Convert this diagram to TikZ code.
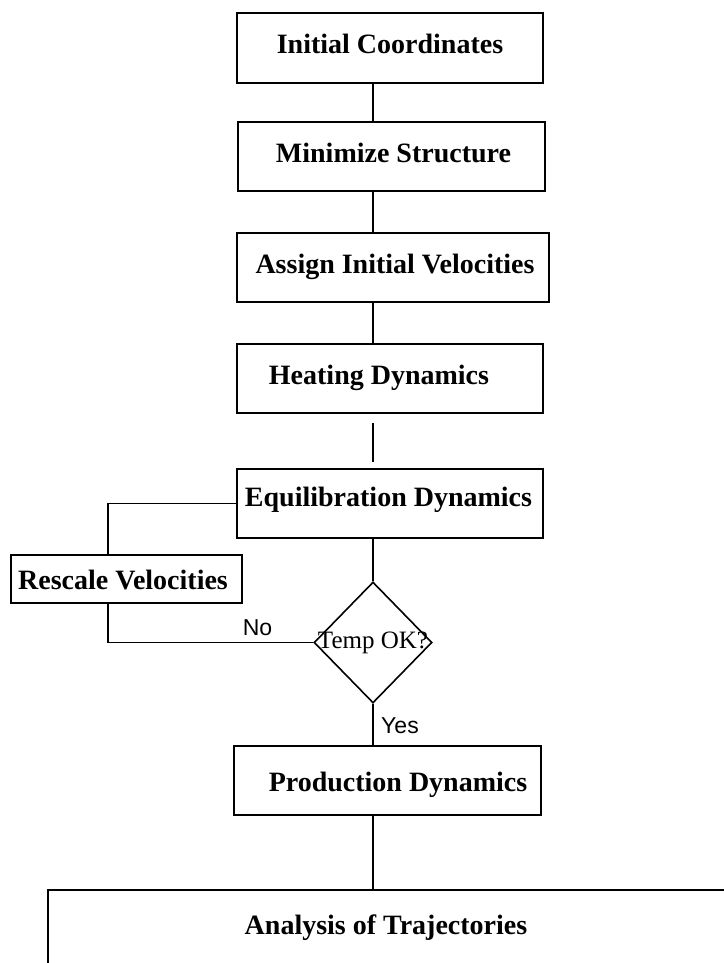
\documentclass[tikz,border=0pt]{standalone}
\usepackage{fontspec}
\setmainfont{Liberation Serif}
\newfontfamily\sansf{Liberation Sans}
\usetikzlibrary{shapes.geometric}
\newcommand{\tshift}[3]{\raisebox{#2}{\makebox[0pt]{\hspace*{#1}\hspace*{#1}#3}}}
\begin{document}
\begin{tikzpicture}[x=1pt,y=-1pt,
  box/.style={draw, line width=1.8pt, inner sep=0pt, text height=19pt, text depth=8pt,
    font=\fontsize{28}{32}\selectfont\bfseries},
  decision/.style={diamond, draw, line width=1.6pt, inner sep=0pt,
    minimum width=118pt, minimum height=121pt, font=\fontsize{25}{28}\selectfont},
  conn/.style={line width=1.6pt},
  lab/.style={font=\sansf\fontsize{23}{26}\selectfont, inner sep=0pt, anchor=base}]
\useasboundingbox (0,0) rectangle (723,963);
\coordinate (spine) at (373,0);
\coordinate (lx) at (108,0);
\node[box, minimum width=306pt, minimum height=70pt] (init) at (390,48) {\tshift{0pt}{0pt}{Initial Coordinates}};
\node[box, minimum width=307pt, minimum height=69pt] (min) at (391.5,156.5) {\tshift{2pt}{0pt}{Minimize Structure}};
\node[box, minimum width=312pt, minimum height=69pt] (assign) at (393,267.5) {\tshift{2pt}{0pt}{Assign Initial Velocities}};
\node[box, minimum width=306pt, minimum height=69pt] (heat) at (390,378.5) {\tshift{-11pt}{0pt}{Heating Dynamics}};
\node[box, minimum width=306pt, minimum height=69pt] (equil) at (390,503.5) {\tshift{-1.5pt}{3pt}{Equilibration Dynamics}};
\node[box, minimum width=231pt, minimum height=48pt] (resc) at (126.5,579) {\tshift{-3.5pt}{-5pt}{Rescale Velocities}};
\node[decision] (dia) at (373,642.5) {\makebox[0pt]{Temp OK?}};
\node[box, minimum width=307pt, minimum height=69pt] (prod) at (387.5,780.5) {\tshift{10.5pt}{-5pt}{Production Dynamics}};
\node[draw, line width=1.8pt, anchor=north west, minimum width=740pt, minimum height=130pt, inner sep=0pt] (anabox) at (47,889) {};
\node[font=\fontsize{28}{32}\selectfont\bfseries, anchor=base, inner sep=0pt] (ana) at (386,934) {Analysis of Trajectories};
\node[lab] (no) at (257.5,635) {No};
\node[lab] (yes) at (400,733) {Yes};
\draw[conn] (init.south -| spine) -- (min.north -| spine);
\draw[conn] (min.south -| spine) -- (assign.north -| spine);
\draw[conn] (assign.south -| spine) -- (heat.north -| spine);
\draw[conn, shorten <=9pt, shorten >=6pt] (heat.south -| spine) -- (equil.north -| spine);
\draw[conn] (equil.south -| spine) -- (dia.north);
\draw[conn] (dia.south) -- (prod.north -| spine);
\draw[conn] (prod.south -| spine) -- (anabox.north -| spine);
\draw[conn] (equil.west) -| (resc.north -| lx);
\draw[conn] (resc.south -| lx) |- (dia.west);
\end{tikzpicture}
\end{document}
